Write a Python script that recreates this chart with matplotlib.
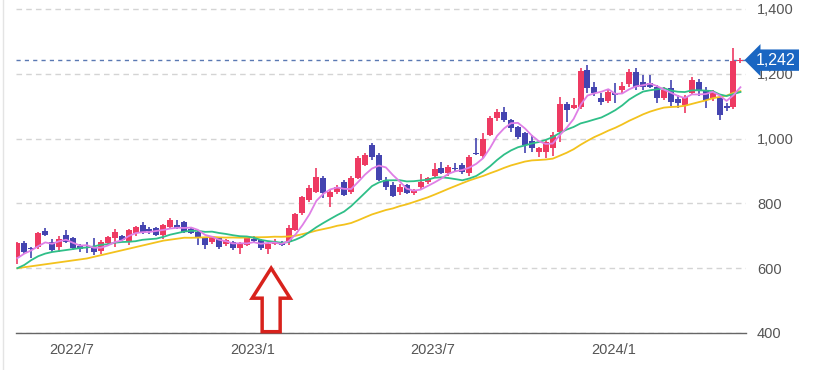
import numpy as np
import pandas as pd
import matplotlib
matplotlib.use("Agg")
import matplotlib.pyplot as plt
from matplotlib.patches import Polygon
from matplotlib import transforms
from matplotlib.lines import Line2D

# ---------------- data (weekly candles) ----------------
start_week = "2022-05-09"

opens = [635, 678, 660, 665, 715, 681, 665, 702, 693, 668, 665, 662, 653, 678, 693, 699, 681, 709,
         733, 720, 724, 702, 727, 733, 743, 721, 712, 693, 681, 693, 675, 681, 662, 672, 690, 687,
         659, 675, 681, 681, 718, 770, 810, 835, 878, 820, 835, 866, 835, 878, 918, 980, 950, 872,
         857, 835, 857, 832, 850, 866, 885, 909, 894, 910, 918, 894, 955, 945, 1011, 1063, 1082,
         1057, 1036, 1017, 992, 958, 958, 971, 1020, 1107, 1095, 1098, 1211, 1160, 1125, 1116, 1141,
         1150, 1168, 1205, 1175, 1172, 1160, 1125, 1156, 1122, 1103, 1140, 1175, 1150, 1125, 1125,
         1100, 1097, 1240]
highs = [682, 684, 665, 712, 725, 690, 700, 718, 696, 675, 680, 693, 687, 700, 720, 703, 720, 730,
         742, 728, 727, 736, 755, 750, 746, 725, 716, 696, 700, 696, 690, 684, 680, 696, 700, 690,
         678, 690, 685, 733, 770, 823, 857, 909, 884, 845, 858, 872, 885, 945, 955, 985, 955, 880,
         865, 860, 860, 845, 890, 882, 925, 928, 918, 925, 925, 950, 1002, 1017, 1070, 1090, 1097,
         1060, 1040, 1020, 1010, 975, 995, 1020, 1128, 1113, 1125, 1218, 1227, 1175, 1140, 1150, 1170,
         1175, 1215, 1218, 1195, 1196, 1165, 1160, 1180, 1135, 1135, 1190, 1185, 1160, 1150, 1135,
         1110, 1280, 1250]
lows = [612, 645, 632, 660, 700, 650, 650, 678, 655, 650, 648, 640, 645, 672, 665, 684, 672, 700,
        705, 705, 700, 690, 722, 720, 708, 706, 672, 660, 675, 660, 670, 656, 645, 668, 680, 656,
        645, 672, 668, 672, 715, 765, 805, 832, 817, 790, 828, 822, 830, 875, 915, 935, 868, 840,
        820, 826, 828, 826, 840, 860, 880, 890, 885, 900, 892, 885, 948, 940, 1008, 1055, 1050,
        1020, 1000, 955, 960, 942, 940, 945, 990, 1050, 1090, 1090, 1140, 1130, 1104, 1110, 1110,
        1140, 1160, 1150, 1150, 1155, 1110, 1120, 1100, 1094, 1079, 1135, 1130, 1094, 1115, 1057,
        1085, 1090, 1232]
closes = [678, 650, 658, 709, 703, 656, 690, 681, 662, 660, 662, 650, 681, 697, 712, 687, 718, 727,
          712, 715, 703, 733, 749, 724, 712, 709, 696, 672, 696, 665, 687, 662, 675, 693, 684, 662,
          675, 681, 672, 724, 767, 820, 847, 881, 832, 835, 850, 826, 878, 940, 950, 943, 872, 850,
          823, 850, 832, 841, 866, 878, 906, 894, 912, 906, 897, 943, 952, 1000, 1065, 1082, 1057,
          1033, 1005, 980, 971, 971, 990, 1011, 1107, 1088, 1105, 1208, 1156, 1141, 1113, 1144, 1135,
          1163, 1205, 1160, 1160, 1160, 1125, 1150, 1113, 1110, 1128, 1180, 1150, 1119, 1144, 1073,
          1095, 1238, 1242]

# moving-average values for the warm-up weeks
ma5_head = [631, 645, 655, 668]
ma13_head = [600, 610, 625, 637, 645, 650, 653, 656, 659, 662, 664, 667]
ma26_head = [600, 603, 606, 609, 612, 615, 618, 621, 624, 627, 630, 635, 640, 645, 650, 655,
             660, 665, 670, 675, 680, 685, 688, 691, 694]

y_ticks = [400, 600, 800, 1000, 1200, 1400]
arrow_week = 36.5      # annotation arrow position (week index)
arrow_tip_price = 600  # annotation arrow tip

# ---------------- derived ----------------
n = len(closes)
x = np.arange(n)
O = np.array(opens, float)
H = np.array(highs, float)
L = np.array(lows, float)
C = np.array(closes, float)
dates = pd.date_range(start_week, periods=n, freq="7D")

s = pd.Series(C)
ma5 = s.rolling(5).mean().to_numpy()
ma5[:len(ma5_head)] = ma5_head
ma13 = s.rolling(13).mean().to_numpy()
ma13[:len(ma13_head)] = ma13_head
ma26 = s.rolling(26).mean().to_numpy()
ma26[:len(ma26_head)] = ma26_head

UP = "#ee3a62"
DOWN = "#4444b0"
TXT = "#555555"
plt.rcParams["font.family"] = ["Liberation Sans", "DejaVu Sans"]

fig = plt.figure(figsize=(8.22, 3.70), dpi=100)
ax = fig.add_axes([16 / 822, 37 / 370, 730 / 822, 333 / 370])

ax.set_xlim(-0.2, 104.8)
ax.set_ylim(400, 1427.6)

# grid
ax.set_yticks(y_ticks)
ax.yaxis.grid(True, color="#d4d4d4", linestyle=(0, (4, 3)), linewidth=1)
ax.set_axisbelow(True)

# candles
up = C >= O
colors = np.where(up, UP, DOWN)
body_lo = np.minimum(O, C)
body_h = np.maximum(np.abs(C - O), 3)
ax.vlines(x, L, H, colors=colors, linewidth=1.2, zorder=2)
ax.bar(x, body_h, bottom=body_lo, width=0.86, color=colors, linewidth=0, zorder=3)

# moving averages
ax.plot(x, ma26, color="#f3c21d", linewidth=1.3, zorder=4)
ax.plot(x, ma13, color="#2fbf88", linewidth=1.3, zorder=4)
ax.plot(x, ma5, color="#df7fe6", linewidth=1.3, zorder=4)

# last price line and label
last = closes[-1]
ax.axhline(last, color="#5b79b3", linestyle=(0, (3, 3)), linewidth=1, zorder=1)
tr = transforms.blended_transform_factory(ax.transAxes, ax.transData)
ax.text(1.041, last, f"{last:,}", transform=tr, ha="center", va="center", color="white",
        fontsize=11.5, zorder=10, clip_on=False,
        bbox=dict(boxstyle="larrow,pad=0.2", fc="#1a66c2", ec="none"))

# axes styling
for side in ["top", "left", "right"]:
    ax.spines[side].set_visible(False)
ax.spines["bottom"].set_color("#666666")
ax.spines["bottom"].set_linewidth(1)
ax.yaxis.tick_right()
ax.tick_params(axis="y", length=0, pad=8, labelsize=10.5, labelcolor=TXT)
ax.set_yticklabels([f"{v:,}" for v in y_ticks])

# x ticks at first week of Jan / Jul
tick_pos, tick_lab = [], []
for i in range(1, n):
    if dates[i].month != dates[i - 1].month and dates[i].month in (1, 7):
        tick_pos.append(i - 0.2)
        tick_lab.append(f"{dates[i].year}/{dates[i].month}")
ax.set_xticks(tick_pos)
ax.set_xticklabels(tick_lab)
ax.tick_params(axis="x", length=0, pad=7, labelsize=10.5, labelcolor=TXT)

# red hollow arrow annotation
atr = fig.dpi_scale_trans + transforms.ScaledTranslation(arrow_week, arrow_tip_price, ax.transData)
verts = [(0, 0), (0.19, -0.30), (0.09, -0.30), (0.09, -0.635), (-0.09, -0.635),
         (-0.09, -0.30), (-0.19, -0.30)]
ax.add_patch(Polygon(verts, closed=True, transform=atr, facecolor="white",
                     edgecolor="#d8221c", linewidth=2.5, joinstyle="miter",
                     clip_on=False, zorder=6))

# faint container border at left
fig.add_artist(Line2D([2.5 / 822, 2.5 / 822], [0, 1], color="#e4e4e4", linewidth=1))

fig.savefig("out.png", dpi=100)
